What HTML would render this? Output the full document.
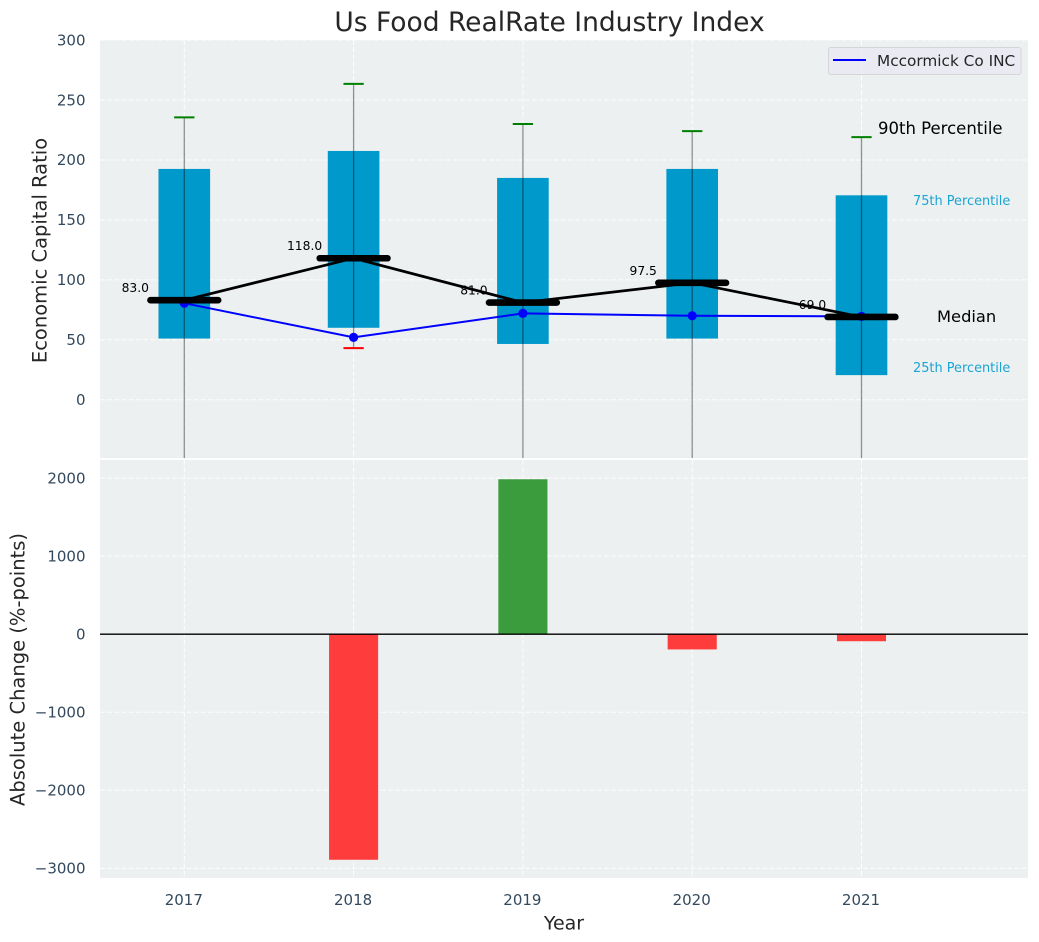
<!DOCTYPE html>
<html lang="en">
<head>
<meta charset="utf-8">
<title>Us Food RealRate Industry Index</title>
<style>
html,body{margin:0;padding:0;background:#fff;width:1039px;height:942px;overflow:hidden}
svg{display:block;font-family:"DejaVu Sans","Liberation Sans",sans-serif}
</style>
</head>
<body>
<svg id="chart" xmlns="http://www.w3.org/2000/svg" width="1039" height="942" viewBox="0 0 1039 942">
  <defs>
    <clipPath id="clip-top"><rect x="100" y="40" width="928" height="418"/></clipPath>
    <clipPath id="clip-bottom"><rect x="100" y="460" width="928" height="418"/></clipPath>
  </defs>
  <rect x="100" y="40" width="928" height="418" fill="#ecf0f1"/>
  <rect x="100" y="460" width="928" height="418" fill="#ecf0f1"/>
  <g id="grid-layer"></g>
  <g id="top-layer" clip-path="url(#clip-top)"></g>
  <g id="bottom-layer" clip-path="url(#clip-bottom)"></g>
  <g id="tick-layer" font-size="15" fill="#34495e"></g>
  <g id="value-layer" font-size="12.3" fill="#000"></g>

  <text x="549.5" y="31" text-anchor="middle" font-size="26.5" fill="#262626">Us Food RealRate Industry Index</text>
  <text transform="translate(46.5,250.5) rotate(-90)" text-anchor="middle" font-size="19.5" fill="#262626">Economic Capital Ratio</text>
  <text transform="translate(24.5,669.5) rotate(-90)" text-anchor="middle" font-size="19.5" fill="#262626">Absolute Change (%-points)</text>
  <text x="564" y="929.5" text-anchor="middle" font-size="19" fill="#262626">Year</text>

  <text x="878" y="134" font-size="16.5" fill="#000">90th Percentile</text>
  <text x="913" y="205" font-size="12.9" fill="#1aa5d2">75th Percentile</text>
  <text x="937" y="322" font-size="16.3" fill="#000">Median</text>
  <text x="913" y="372" font-size="12.9" fill="#1aa5d2">25th Percentile</text>

  <g>
    <rect x="828.5" y="47.5" width="192.5" height="27" rx="2.5" fill="#eaeaf2" fill-opacity="0.8" stroke="#d5d5d9" stroke-width="1"/>
    <line x1="833" y1="60" x2="866" y2="60" stroke="#0000ff" stroke-width="2"/>
    <text x="877" y="66" font-size="15.3" fill="#262626">Mccormick Co INC</text>
  </g>
</svg>
<script>
const years = [2017, 2018, 2019, 2020, 2021];
const p10 = [-90, 43, -90, -90, -90];
const p25 = [51, 60, 46.5, 51, 20.5];
const p50 = [83, 118, 81, 97.5, 69];
const p75 = [192.5, 207.5, 185, 192.5, 170.5];
const p90 = [235.5, 263.5, 230, 224, 219];
const company = [80.5, 52, 72, 70, 69.5];
const change = [0, -2890, 1985, -195, -90];
const medianLabels = ['83.0', '118.0', '81.0', '97.5', '69.0'];
const topTicks = [0, 50, 100, 150, 200, 250, 300];
const bottomTicks = [-3000, -2000, -1000, 0, 1000, 2000];
const boxWidth = 0.305;
const medianHalfWidth = 0.2;
const capHalfWidth = 0.06;

const NS = 'http://www.w3.org/2000/svg';
const xScale = v => 184.3 + (v - 2017) * 169.3;
const yTop = v => 399.7 - v * 1.1988;
const yBottom = v => 634.2 - v * 0.07805;

function make(tag, attrs, parent, text) {
  const el = document.createElementNS(NS, tag);
  for (const k in attrs) el.setAttribute(k, attrs[k]);
  if (text !== undefined) el.textContent = text;
  parent.appendChild(el);
  return el;
}

const gridLayer = document.getElementById('grid-layer');
const topLayer = document.getElementById('top-layer');
const bottomLayer = document.getElementById('bottom-layer');
const tickLayer = document.getElementById('tick-layer');
const valueLayer = document.getElementById('value-layer');
const gridStyle = {stroke: '#ffffff', 'stroke-width': 1, 'stroke-dasharray': '5 2.2', 'stroke-opacity': 0.9};

topTicks.forEach(t => {
  const g = make('line', Object.assign({x1: 100, x2: 1028, y1: yTop(t), y2: yTop(t)}, gridStyle), gridLayer);
  
  
  const l = make('text', {x: 85.5, y: yTop(t) + 5.3, 'text-anchor': 'end'}, tickLayer, String(t));
  
  
});
bottomTicks.forEach(t => {
  const g = make('line', Object.assign({x1: 100, x2: 1028, y1: yBottom(t), y2: yBottom(t)}, gridStyle), gridLayer);
  
  
  const l = make('text', {x: 85.5, y: yBottom(t) + 5.3, 'text-anchor': 'end'}, tickLayer, String(t).replace('-', '\u2212'));
  
  
});
years.forEach(y => {
  const a = make('line', Object.assign({x1: xScale(y), x2: xScale(y), y1: 40, y2: 458}, gridStyle), gridLayer);
  
  
  const b = make('line', Object.assign({x1: xScale(y), x2: xScale(y), y1: 460, y2: 878}, gridStyle), gridLayer);
  
  
  const l = make('text', {x: xScale(y) - 0.5, y: 905, 'text-anchor': 'middle'}, tickLayer, String(y));
  
  
});

years.forEach((y, i) => {
  const box = make('rect', {
    x: xScale(y - boxWidth / 2), width: xScale(y + boxWidth / 2) - xScale(y - boxWidth / 2),
    y: yTop(p75[i]), height: yTop(p25[i]) - yTop(p75[i]), fill: '#0099cb'
  }, topLayer);
  
  
});
years.forEach((y, i) => {
  const w = make('line', {
    x1: xScale(y), x2: xScale(y), y1: yTop(p90[i]), y2: yTop(p10[i]),
    stroke: '#000', 'stroke-opacity': 0.42, 'stroke-width': 1.3
  }, topLayer);
  
  
  const hi = make('line', {
    x1: xScale(y - capHalfWidth), x2: xScale(y + capHalfWidth), y1: yTop(p90[i]), y2: yTop(p90[i]),
    stroke: '#008000', 'stroke-width': 2
  }, topLayer);
  
  
  const lo = make('line', {
    x1: xScale(y - capHalfWidth), x2: xScale(y + capHalfWidth), y1: yTop(p10[i]), y2: yTop(p10[i]),
    stroke: '#ff0000', 'stroke-width': 2
  }, topLayer);
  
  
});

const companyLine = make('polyline', {
  points: years.map((y, i) => xScale(y) + ',' + yTop(company[i])).join(' '),
  fill: 'none', stroke: '#0000ff', 'stroke-width': 2
}, topLayer);


years.forEach((y, i) => {
  const p = make('circle', {cx: xScale(y), cy: yTop(company[i]), r: 4.6, fill: '#0000ff'}, topLayer);
  
  
});

const medianLine = make('polyline', {
  points: years.map((y, i) => xScale(y) + ',' + yTop(p50[i])).join(' '),
  fill: 'none', stroke: '#000', 'stroke-width': 2.7
}, topLayer);


years.forEach((y, i) => {
  const m = make('line', {
    x1: xScale(y - medianHalfWidth), x2: xScale(y + medianHalfWidth), y1: yTop(p50[i]), y2: yTop(p50[i]),
    stroke: '#000', 'stroke-width': 6.6, 'stroke-linecap': 'round'
  }, topLayer);
  
  
  const t = make('text', {x: xScale(y) - 49, y: yTop(p50[i]) - 8, 'text-anchor': 'middle'}, valueLayer, medianLabels[i]);
  
  
});

years.forEach((y, i) => {
  const v = change[i];
  if (v === 0) return;
  const b = make('rect', {
    x: xScale(y - 0.145), width: xScale(y + 0.145) - xScale(y - 0.145),
    y: Math.min(yBottom(v), yBottom(0)), height: Math.abs(yBottom(v) - yBottom(0)),
    fill: v > 0 ? '#3a9c3c' : '#ff3c3c'
  }, bottomLayer);
  
  
});
const zero = make('line', {x1: 100, x2: 1028, y1: yBottom(0), y2: yBottom(0), stroke: '#000', 'stroke-width': 1.3}, bottomLayer);


</script>
</body>
</html>
